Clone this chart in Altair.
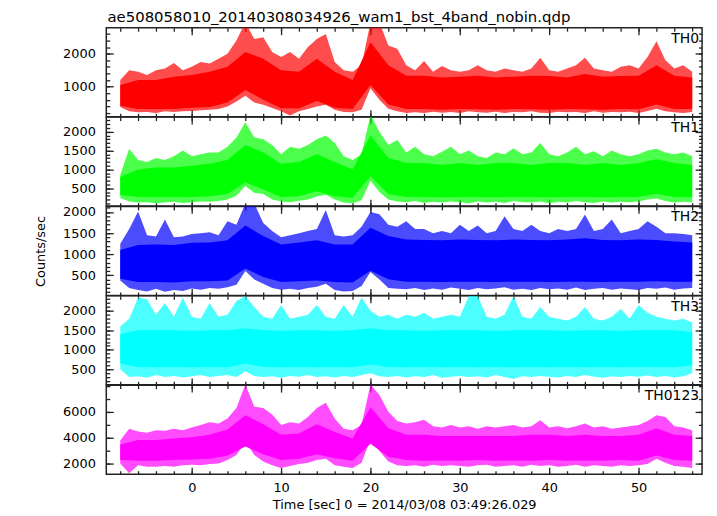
import altair as alt
import pandas as pd

TITLE = "ae508058010_20140308034926_wam1_bst_4band_nobin.qdp"
X_TITLE = "Time [sec] 0 = 2014/03/08 03:49:26.029"
Y_TITLE = "Counts/sec"

# envelope of the spiky light curves (1 s steps)
TIME = list(range(-8, 57))
# dense core of the light curves (2 s steps)
CORE_TIME = list(range(-8, 57, 2))

TH0_HI = [1200, 1500, 1450, 1350, 1500, 1550, 1720, 1500,
          1600, 1750, 1700, 1850, 2000, 2400, 2950, 2450, 2500, 2050,
          1900, 2050, 1850, 2200, 2450, 2600, 1750, 1500, 1450, 1650,
          2950, 2950, 2250, 2150, 1650, 1500, 1780, 1450, 1630, 1500,
          1450, 1500, 1650, 1500, 1450, 1550, 1500, 1450, 1550, 1880,
          1500, 1450, 1550, 1650, 1880, 1550, 1500, 1450, 1600, 1650,
          1550, 1900, 2380, 1800, 1550, 1650, 1450]
TH0_LO = [380, 250, 220, 230, 200, 250, 230, 250,
          260, 280, 300, 320, 400, 550, 720, 520, 450, 350,
          250, 120, 250, 320, 400, 450, 300, 230, 220, 300,
          950, 600, 330, 250, 200, 220, 200, 240, 210, 230,
          200, 250, 220, 210, 240, 200, 230, 220, 250, 210,
          200, 240, 220, 230, 200, 250, 210, 230, 220, 240,
          200, 260, 330, 250, 220, 200, 230]
TH0_CORE_HI = [1050, 1200, 1200, 1300, 1350, 1450, 1600, 2050, 1850, 1500, 1450,
               1850, 1450, 1200, 2350, 1650, 1330, 1330, 1280, 1300, 1330, 1280,
               1300, 1330, 1320, 1280, 1380, 1300, 1320, 1330, 1650, 1330, 1280]
TH0_CORE_LO = [420, 320, 320, 320, 360, 380, 520, 900, 600, 340, 340,
               560, 360, 320, 1050, 460, 320, 320, 300, 320, 310, 300,
               320, 310, 300, 320, 310, 300, 320, 310, 460, 320, 320]

TH1_HI = [850, 1550, 1250, 1200, 1300, 1250, 1350, 1500,
          1350, 1400, 1450, 1450, 1600, 1850, 2250, 1850, 1800, 1650,
          1400, 1600, 1550, 1650, 1800, 1900, 1700, 1350, 1250, 1400,
          2450, 2000, 1650, 1780, 1450, 1600, 1400, 1350, 1470, 1600,
          1400, 1500, 1350, 1300, 1450, 1400, 1560, 1400, 1450, 1700,
          1400, 1350, 1450, 1600, 1400, 1480, 1350, 1500, 1400, 1350,
          1400, 1500, 1550, 1450, 1400, 1450, 1350]
TH1_LO = [240, 150, 120, 130, 100, 120, 140, 110,
          130, 150, 140, 160, 200, 300, 560, 380, 350, 200,
          150, 130, 170, 200, 280, 330, 200, 120, 100, 180,
          700, 400, 200, 150, 130, 160, 110, 140, 120, 150,
          130, 100, 150, 120, 140, 110, 160, 130, 120, 150,
          100, 140, 120, 160, 130, 110, 150, 120, 140, 130,
          150, 200, 230, 160, 120, 140, 130]
TH1_CORE_HI = [800, 1000, 1050, 1050, 1100, 1150, 1250, 1650, 1450, 1150, 1200,
               1400, 1200, 1000, 1900, 1300, 1170, 1170, 1120, 1170, 1120, 1170,
               1170, 1120, 1170, 1170, 1120, 1170, 1120, 1170, 1270, 1170, 1120]
TH1_CORE_LO = [320, 270, 270, 270, 270, 290, 350, 660, 470, 270, 290,
               420, 290, 250, 820, 350, 270, 270, 260, 270, 270, 260,
               270, 270, 260, 270, 270, 260, 270, 270, 350, 270, 270]

TH2_HI = [1250, 1600, 2010, 1450, 1420, 1820, 1400, 1420,
          1480, 1500, 1520, 1450, 1780, 1700, 2200, 2200, 1740, 1550,
          1400, 1450, 1500, 1550, 1600, 2050, 1450, 1420, 1450, 1650,
          2000, 1950, 1700, 1650, 1780, 1600, 1600, 1500, 1550, 1500,
          1700, 1550, 1680, 1500, 1550, 1900, 1600, 1550, 1700, 1550,
          1500, 1600, 1550, 1600, 1940, 1550, 1600, 1820, 1500, 1550,
          1600, 1780, 1650, 1500, 1500, 1480, 1450]
TH2_LO = [380, 200, 150, 120, 180, 110, 150, 130,
          190, 160, 200, 180, 220, 280, 600, 400, 300, 200,
          160, 180, 150, 200, 230, 300, 150, 120, 130, 250,
          580, 400, 200, 180, 170, 200, 150, 190, 160, 210,
          180, 150, 200, 170, 190, 220, 160, 180, 150, 200,
          170, 190, 160, 210, 150, 180, 200, 160, 190, 170,
          150, 200, 180, 210, 160, 190, 200]
TH2_CORE_HI = [1100, 1220, 1230, 1220, 1270, 1280, 1330, 1680, 1430, 1230, 1280,
               1330, 1230, 1230, 1630, 1430, 1350, 1340, 1330, 1350, 1340, 1330,
               1350, 1340, 1330, 1350, 1380, 1340, 1330, 1350, 1340, 1300, 1280]
TH2_CORE_LO = [420, 340, 340, 330, 360, 360, 380, 660, 460, 340, 360,
               380, 340, 330, 610, 410, 350, 350, 340, 350, 350, 340,
               350, 350, 340, 350, 350, 340, 350, 350, 360, 350, 350]

TH3_HI = [1600, 1800, 2340, 2300, 1900, 2200, 1850, 2340,
          1850, 1800, 2200, 1850, 1900, 2250, 2380, 2100, 1850, 1800,
          2150, 1800, 1850, 1900, 2150, 1850, 1800, 2150, 1850, 2340,
          2000, 1850, 1900, 1800, 1900, 1850, 1950, 1800, 1850, 1900,
          1850, 2380, 2380, 1850, 1800, 1900, 2380, 1850, 1800, 2100,
          1850, 1800, 1750, 1850, 2100, 1800, 1750, 1850, 2050, 1800,
          2150, 1950, 1850, 1800, 1750, 1800, 1700]
TH3_LO = [500, 300, 320, 280, 350, 300, 330, 290,
          320, 350, 300, 330, 350, 300, 450, 330, 300, 320,
          280, 330, 310, 350, 300, 320, 290, 330, 300, 350,
          400, 320, 300, 330, 290, 320, 300, 350, 280, 310,
          330, 300, 320, 290, 350, 300, 250, 320, 300, 330,
          310, 290, 330, 300, 350, 310, 280, 320, 300, 330,
          310, 340, 300, 330, 290, 320, 400]
TH3_CORE_HI = [1400, 1500, 1500, 1500, 1480, 1500, 1500, 1550, 1500, 1480, 1500,
               1500, 1480, 1500, 1550, 1500, 1500, 1480, 1500, 1500, 1500, 1480,
               1500, 1500, 1500, 1480, 1500, 1500, 1480, 1500, 1500, 1500, 1450]
TH3_CORE_LO = [650, 560, 550, 560, 550, 560, 550, 650, 560, 550, 560,
               550, 560, 550, 620, 560, 550, 560, 550, 560, 550, 560,
               550, 560, 550, 560, 550, 560, 550, 560, 560, 550, 600]

TH0123_HI = [3800, 4700, 4500, 4400, 4600, 4550, 4700, 4600,
             4800, 5000, 5200, 5100, 5500, 6300, 8100, 6400, 6300, 5800,
             5000, 5200, 5100, 5600, 6300, 6700, 5500, 4700, 4600, 5000,
             8100, 7300, 6000, 5300, 5100, 5200, 5400, 4900, 4800, 5000,
             4800, 4900, 4700, 4900, 4800, 4900, 5000, 4800, 4900, 5350,
             4800, 4900, 4750, 4900, 5100, 4800, 4900, 4700, 4800, 4900,
             5000, 5300, 5750, 5600, 4900, 4800, 4600]
TH0123_LO = [2050, 1300, 1900, 1800, 1800, 1850, 1800, 1900,
             1950, 1900, 2000, 2050, 2300, 2700, 3700, 2700, 2200, 1900,
             1700, 1850, 2000, 2100, 2300, 2400, 1900, 1800, 1700, 2100,
             3900, 3000, 2200, 1900, 1850, 1900, 1800, 1950, 1850, 1900,
             1850, 1800, 1900, 1950, 1800, 1850, 1900, 1800, 1950, 1850,
             1900, 1800, 1850, 1950, 1800, 1900, 1850, 1800, 1900, 1850,
             1900, 2000, 2400, 2100, 1850, 1800, 1700]
TH0123_CORE_HI = [3500, 3850, 3850, 3950, 4050, 4250, 4650, 5750, 5050, 4250, 4350,
                  5050, 4450, 3950, 6350, 4750, 4250, 4250, 4150, 4150, 4150, 4150,
                  4150, 4250, 4250, 4150, 4250, 4150, 4150, 4250, 4750, 4250, 4150]
TH0123_CORE_LO = [2300, 2250, 2250, 2300, 2350, 2400, 2650, 3350, 2750, 2300, 2400,
                  2750, 2450, 2250, 3550, 2550, 2300, 2250, 2270, 2250, 2300, 2250,
                  2270, 2250, 2300, 2250, 2270, 2250, 2300, 2250, 2650, 2300, 2250]

NAMES = ["TH0", "TH1", "TH2", "TH3", "TH0123"]
COLORS = ["#ff0000", "#00ff00", "#0000ff", "#00ffff", "#ff00ff"]
HIS = [TH0_HI, TH1_HI, TH2_HI, TH3_HI, TH0123_HI]
LOS = [TH0_LO, TH1_LO, TH2_LO, TH3_LO, TH0123_LO]
CORE_HIS = [TH0_CORE_HI, TH1_CORE_HI, TH2_CORE_HI, TH3_CORE_HI, TH0123_CORE_HI]
CORE_LOS = [TH0_CORE_LO, TH1_CORE_LO, TH2_CORE_LO, TH3_CORE_LO, TH0123_CORE_LO]
Y_DOMAINS = [[85, 2790], [26, 2390], [23, 2133], [100, 2387], [1220, 8050]]
Y_MAJOR = [[1000, 2000], [500, 1000, 1500, 2000], [500, 1000, 1500, 2000],
           [500, 1000, 1500, 2000], [2000, 4000, 6000]]
Y_MINOR = [list(range(200, 2790, 200)), list(range(100, 2390, 100)),
           list(range(100, 2133, 100)), list(range(100, 2387, 100)),
           list(range(2000, 8050, 1000))]
X_DOMAIN = [-9.56, 57.1]
X_MAJOR = [0, 10, 20, 30, 40, 50]
X_MINOR = list(range(-8, 57, 2))

FONT = "DejaVu Sans"
W = 600
H = 89.7
MAJ = 7
MIN = 3.5
TICK_COLOR = "#222222"


def tick_axis(orient, values, size):
    return alt.Axis(orient=orient, values=values, labels=False, domain=False,
                    grid=False, ticks=True, tickSize=size, offset=-size,
                    labelPadding=0, minExtent=0, maxExtent=0,
                    tickColor=TICK_COLOR, tickWidth=1.3, title=None)


def panel(i):
    df = pd.DataFrame({"t": TIME, "hi": HIS[i], "lo": LOS[i]})
    core = pd.DataFrame({"t": CORE_TIME, "hi": CORE_HIS[i], "lo": CORE_LOS[i]})
    base = alt.Chart(df)
    xs = alt.Scale(domain=X_DOMAIN, nice=False, zero=False)
    ys = alt.Scale(domain=Y_DOMAINS[i], nice=False, zero=False)
    bottom = i == 4

    if bottom:
        x_axis = alt.Axis(orient="bottom", values=X_MAJOR, ticks=False, tickSize=0,
                          domain=False, grid=False, labelPadding=7, format="d",
                          labelFont=FONT, labelFontSize=13, labelColor="black",
                          title=X_TITLE, titleFont=FONT, titleFontSize=13,
                          titleFontWeight="normal", titleColor="black",
                          titlePadding=5)
    else:
        x_axis = None
    y_kwargs = dict(orient="left", values=Y_MAJOR[i], ticks=False, tickSize=0,
                    domain=False, grid=False, labelPadding=11, format="d",
                    labelFont=FONT, labelFontSize=13, labelColor="black")
    if i == 2:
        y_axis = alt.Axis(title=Y_TITLE, titleFont=FONT, titleFontSize=13,
                          titleFontWeight="normal", titleColor="black",
                          titlePadding=15, **y_kwargs)
    else:
        y_axis = alt.Axis(title=None, **y_kwargs)

    outer = base.mark_area(color=COLORS[i], opacity=0.7, clip=True).encode(
        x=alt.X("t:Q", scale=xs, axis=x_axis),
        y=alt.Y("lo:Q", scale=ys, axis=y_axis),
        y2=alt.Y2("hi:Q"),
    )
    inner = alt.Chart(core).mark_area(color=COLORS[i], opacity=1, clip=True).encode(
        x=alt.X("t:Q", scale=xs, axis=None),
        y=alt.Y("lo:Q", scale=ys, axis=None),
        y2=alt.Y2("hi:Q"),
    )
    layers = [outer, inner]
    for xo, yo in [("bottom", "left"), ("top", "right")]:
        for vals_x, vals_y, size in [(X_MAJOR, Y_MAJOR[i], MAJ), (X_MINOR, Y_MINOR[i], MIN)]:
            layers.append(base.mark_area(opacity=0, clip=True).encode(
                x=alt.X("t:Q", scale=xs, axis=tick_axis(xo, vals_x, size)),
                y=alt.Y("lo:Q", scale=ys, axis=tick_axis(yo, vals_y, size)),
                y2=alt.Y2("hi:Q"),
            ))
    label = alt.Chart(pd.DataFrame({"name": [NAMES[i]]})).mark_text(
        align="right", baseline="top", font=FONT, fontSize=14, color="black"
    ).encode(x=alt.value(W - 3), y=alt.value(4), text="name:N")
    layers.append(label)
    return alt.layer(*layers).resolve_axis(x="independent", y="independent").properties(
        width=W, height=H)


chart = alt.vconcat(*[panel(i) for i in range(5)], spacing=0, bounds="flush").properties(
    title=alt.TitleParams(TITLE, anchor="start", font=FONT, fontSize=15,
                          fontWeight="normal", color="black", offset=1.5, dx=74),
    padding={"left": 26, "top": 0, "right": 5, "bottom": 5},
).configure_view(stroke="#222222", strokeWidth=1.5)

chart.save("out.html", embed_options={"renderer": "svg", "actions": False})
